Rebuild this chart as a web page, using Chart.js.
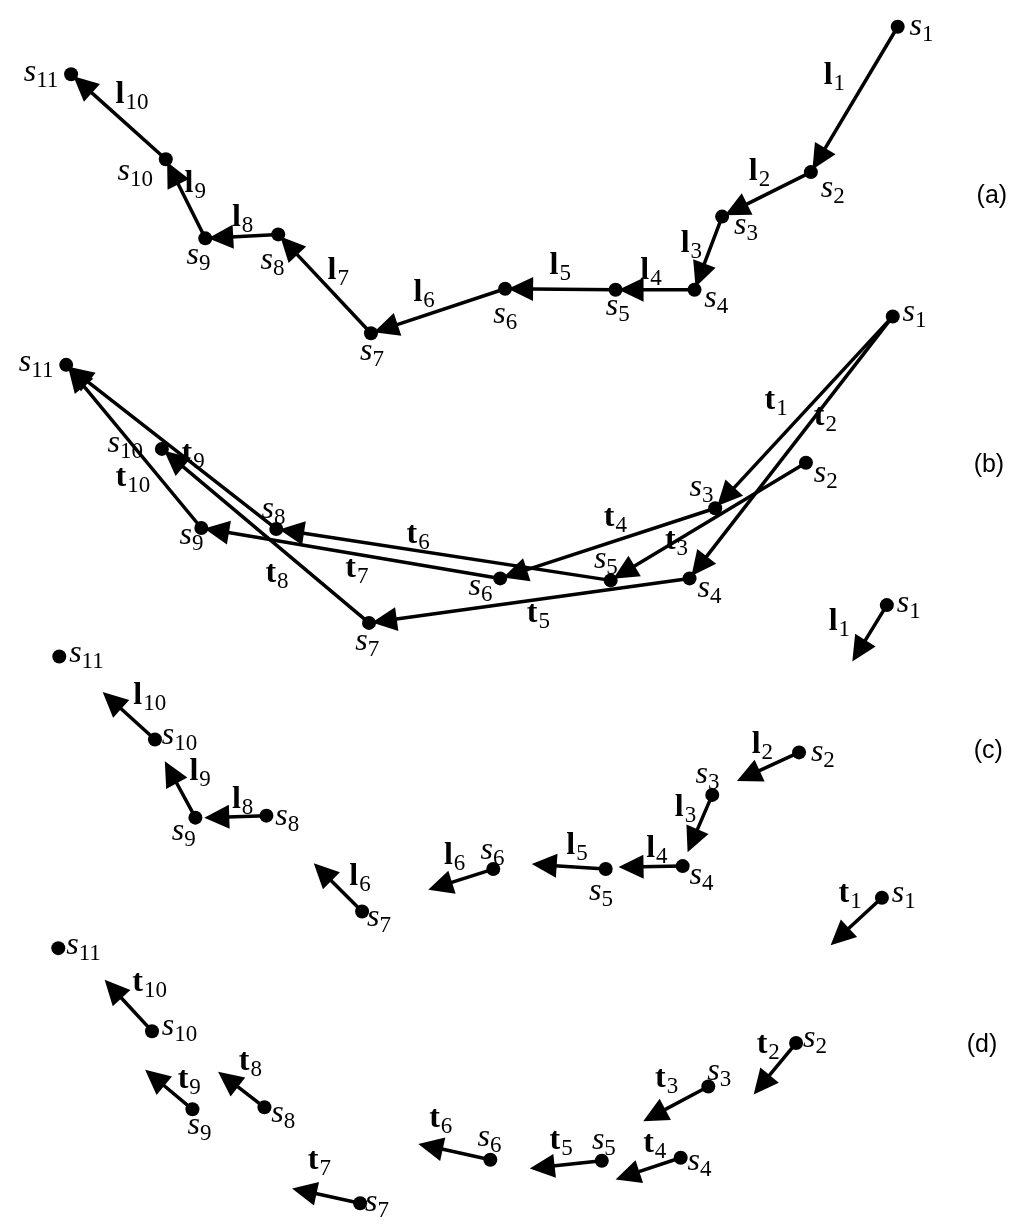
<!DOCTYPE html>
<html><head><meta charset="utf-8">
<script src="https://cdn.jsdelivr.net/npm/chart.js@4/dist/chart.umd.min.js"></script>
<style>html,body{margin:0;padding:0;background:#fff}#wrap{width:1027px;height:1228px}</style>
</head><body><div id="wrap"><canvas id="c" width="1027" height="1228"></canvas></div>
<script>
// ---- panel (a): points s1..s11 and chained arrows l1..l10
const aX=[903,815,725,697,617,505,369,275,201,161,65];
const aY=[20,167,212,286,286,285,330,230,234,154,68];
const aFrom=[0,1,2,3,4,5,6,7,8,9];
const aTo=[1,2,3,4,5,6,7,8,9,10];
const aSLx=[915,825,737,707,607,493,358,257,182,112,17];
const aSLy=[28,192,230,303,312,320,357,265,260,175,75];
const aELx=[828,752,683,642,550,412,325,228,180,110];
const aELy=[78,175,248,275,270,297,275,222,187,97];
const aESub=['1','2','3','4','5','6','7','8','9','10'];

// ---- panel (b): chords t1..t10
const bX=[898,810,718,692,612,500,367,273,197,157,60];
const bY=[313,461,507,578,580,578,623,528,527,447,362];
const bFrom=[0,0,1,2,3,4,5,6,7,8];
const bTo=[2,3,4,5,6,7,8,9,10,10];
const bSLx=[908,818,692,700,595,468,353,258,175,102,12];
const bSLy=[318,480,495,597,567,595,650,517,543,450,368];
const bELx=[768,818,667,605,527,405,343,262,177,110];
const bELy=[407,423,548,525,622,542,577,582,460,485];
const bESub=['1','2','3','4','5','6','7','8','9','10'];

// ---- panel (c): points with vectors l_i
const cX=[892,803,715,685,607,493,360,263,191,150,53];
const cY=[605,754,797,869,872,872,915,818,820,741,657];
const cTipX=[857,740,690,620,532,427,311,200,160,97];
const cTipY=[662,783,855,870,867,893,866,820,763,693];
const cSLx=[902,815,698,692,590,480,365,272,167,157,63];
const cSLy=[612,763,785,887,903,862,930,827,843,746,663];
const cELx=[833,755,677,648,567,443,347,228,185,128];
const cELy=[630,755,818,860,857,867,888,810,782,705];
const cESub=['1','2','3','4','5','6','6','8','9','10'];

// ---- panel (d): points with vectors t_i
const dX=[887,800,711,683,603,490,358,261,188,147,52];
const dY=[901,1048,1092,1164,1167,1166,1210,1113,1115,1036,952];
const dTipX=[835,757,645,617,530,417,289,214,140,99];
const dTipY=[949,1100,1127,1186,1175,1150,1195,1077,1075,984];
const dSLx=[897,807,710,690,593,477,363,268,183,157,60];
const dSLy=[905,1052,1085,1176,1155,1152,1218,1128,1140,1040,958];
const dELx=[843,760,657,645,550,428,305,235,173,127];
const dELy=[905,1058,1092,1158,1155,1133,1175,1075,1093,995];
const dESub=['1','2','3','4','5','6','7','8','9','10'];

const panelTags=['(a)','(b)','(c)','(d)'];
const panelTagX=[983,980,980,973];
const panelTagY=[198,470,760,1057];

function pts(xs,ys){return xs.map((x,i)=>({x:x,y:ys[i]}));}

function arrow(ctx,x1,y1,x2,y2,back){
  const dx=x2-x1, dy=y2-y1, L=Math.hypot(dx,dy);
  const ux=dx/L, uy=dy/L;
  const tx=x2-ux*back, ty=y2-uy*back;
  const hl=25, hw=12;
  const bx=tx-ux*hl, by=ty-uy*hl;
  ctx.beginPath();ctx.moveTo(x1,y1);ctx.lineTo(bx+ux*2,by+uy*2);ctx.stroke();
  ctx.beginPath();ctx.moveTo(tx,ty);
  ctx.lineTo(bx-uy*hw,by+ux*hw);ctx.lineTo(bx+uy*hw,by-ux*hw);ctx.closePath();ctx.fill();
}

function label(ctx,base,sub,x,y,kind){
  ctx.fillStyle='#000';ctx.textBaseline='alphabetic';ctx.textAlign='left';
  ctx.font=(kind==='s'?'italic 32px':'bold 32px')+' "Liberation Serif", serif';
  ctx.fillText(base,x,y);
  const w=ctx.measureText(base).width;
  ctx.font='23px "Liberation Serif", serif';
  ctx.fillText(sub,x+w+(kind==='s'?0:1),y+6);
}

const drawPlugin={
  id:'diagram',
  beforeDatasetsDraw(chart){
    const ctx=chart.ctx, xs=chart.scales.x, ys=chart.scales.y;
    const X=v=>xs.getPixelForValue(v), Y=v=>ys.getPixelForValue(v);
    ctx.save();ctx.strokeStyle='#000';ctx.fillStyle='#000';ctx.lineWidth=3.5;ctx.lineCap='round';
    aFrom.forEach((f,i)=>arrow(ctx,X(aX[f]),Y(aY[f]),X(aX[aTo[i]]),Y(aY[aTo[i]]),3));
    bFrom.forEach((f,i)=>arrow(ctx,X(bX[f]),Y(bY[f]),X(bX[bTo[i]]),Y(bY[bTo[i]]),3));
    cTipX.forEach((t,i)=>arrow(ctx,X(cX[i]),Y(cY[i]),X(t),Y(cTipY[i]),0));
    dTipX.forEach((t,i)=>arrow(ctx,X(dX[i]),Y(dY[i]),X(t),Y(dTipY[i]),0));
    ctx.restore();
  },
  afterDatasetsDraw(chart){
    const ctx=chart.ctx, xs=chart.scales.x, ys=chart.scales.y;
    const X=v=>xs.getPixelForValue(v), Y=v=>ys.getPixelForValue(v);
    ctx.save();
    const sets=[[aSLx,aSLy,aELx,aELy,aESub,'l'],[bSLx,bSLy,bELx,bELy,bESub,'t'],
                [cSLx,cSLy,cELx,cELy,cESub,'l'],[dSLx,dSLy,dELx,dELy,dESub,'t']];
    sets.forEach(([sx,sy,ex,ey,es,k])=>{
      sx.forEach((v,i)=>label(ctx,'s',String(i+1),X(v),Y(sy[i]),'s'));
      ex.forEach((v,i)=>label(ctx,k,es[i],X(v),Y(ey[i]),'b'));
    });
    ctx.font='25px "Liberation Sans", sans-serif';ctx.fillStyle='#000';
    panelTags.forEach((t,i)=>ctx.fillText(t,X(panelTagX[i]),Y(panelTagY[i])));
    ctx.restore();
  }
};

const ds=(xs,ys)=>({data:pts(xs,ys),backgroundColor:'#000',borderColor:'#000',pointRadius:7,pointHoverRadius:7,pointBorderWidth:0,showLine:false});
new Chart(document.getElementById('c'),{
  type:'scatter',
  data:{datasets:[ds(aX,aY),ds(bX,bY),ds(cX,cY),ds(dX,dY)]},
  options:{responsive:false,devicePixelRatio:1,animation:false,
    layout:{padding:0},
    plugins:{legend:{display:false},tooltip:{enabled:false}},
    scales:{x:{type:'linear',min:0,max:1027,display:false},
            y:{type:'linear',min:0,max:1228,reverse:true,display:false}}},
  plugins:[drawPlugin]
});
</script></body></html>
